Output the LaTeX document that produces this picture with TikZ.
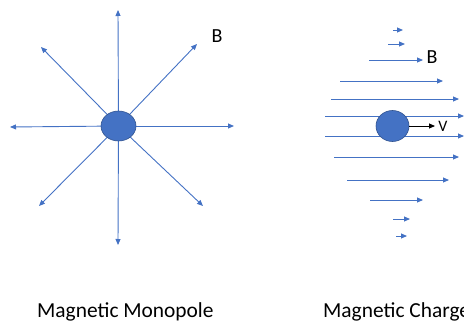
\documentclass[tikz,border=0pt]{standalone}
\usepackage{fontspec}
\setmainfont{Carlito}
\usetikzlibrary{arrows.meta,shapes.geometric}
\definecolor{fl}{HTML}{4472C4}
\definecolor{edge}{HTML}{2F528F}
\begin{document}
\begin{tikzpicture}[x=1pt,y=-1pt,
  fline/.style={draw=fl,line width=0.9pt,-{Triangle[length=6pt,width=5pt]}},
  charge/.style={ellipse,fill=fl,draw=edge,line width=0.6pt,inner sep=0pt},
  lbl/.style={font=\fontsize{20}{22}\selectfont,inner sep=0pt},
  captext/.style={font=\fontsize{21.4}{24}\selectfont,inner sep=0pt,anchor=west}]
\useasboundingbox (0,0) rectangle (464,324);
% left: monopole
\coordinate (u) at (118,10);
\coordinate (d) at (118,245);
\coordinate (l) at (10,127);
\coordinate (r) at (234,126);
\coordinate (ul) at (41,47);
\coordinate (ur) at (197,44);
\coordinate (dl) at (39,206);
\coordinate (dr) at (203,206);
\coordinate (mc) at (118.5,126);
\foreach \c in {u,d,l,r,ul,ur,dl,dr} \draw[fline] (mc) -- (\c);
\node[charge,minimum width=35pt,minimum height=30pt] (m) at (mc) {};
\node[lbl] (b1) at (217,36) {B};
% right: moving charge
\foreach \y/\a/\b [count=\i] in {30/393/403, 44/388/405, 60/369/423, 81/340/443, 99/331/459, 116/325/464, 136/325/464, 157/334/459, 180/347/449, 200/370/423, 219/393/410, 236/396/407}{
  \coordinate (s\i) at (\a,\y);
  \coordinate (e\i) at (\b,\y);
  \draw[fline] (s\i) -- (e\i);
}
\node[charge,minimum width=33pt,minimum height=31pt] (q) at (392.5,126) {};
\coordinate (vend) at (435,126);
\draw[black,line width=0.9pt,-{Triangle[length=6pt,width=5pt]}] (q.east) -- (vend);
\node[lbl,font=\fontsize{16}{18}\selectfont] (v) at (443,126) {V};
\node[lbl] (b2) at (432,57) {B};
% captions
\node[captext] (c1) at (37,312) {Magnetic Monopole};
\node[captext] (c2) at (323,312) {Magnetic Charge};
\end{tikzpicture}
\end{document}
